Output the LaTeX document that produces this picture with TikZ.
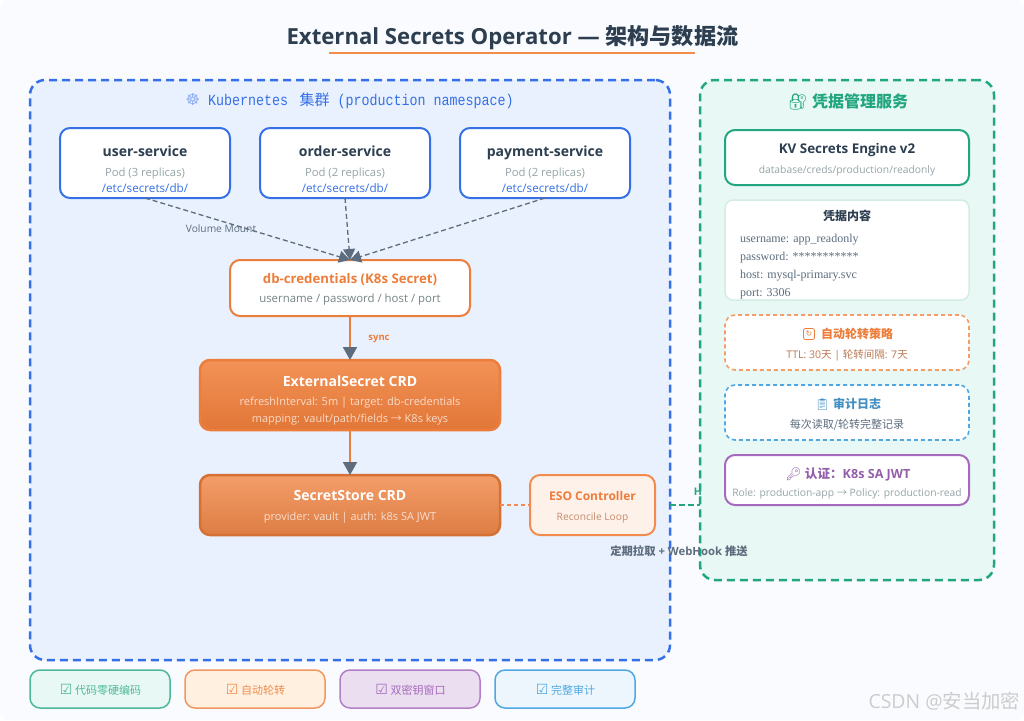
\documentclass[tikz,border=0pt]{standalone}
\usepackage{fontspec}
\usetikzlibrary{arrows.meta}
\setmainfont{Open Sans}
\newfontfamily\cjk{Noto Sans CJK SC}
\newfontfamily\mono[FakeStretch=0.86]{Liberation Mono}
\newfontfamily\serifbody{Liberation Serif}
\newfontfamily\emoji{Noto Emoji}
\newfontfamily\symb{DejaVu Sans}
\newcommand{\fs}[1]{\fontsize{#1}{#1}\selectfont}
\newcommand{\chk}{{\symb\fs{14}☑}}
\definecolor{pagebg}{HTML}{F9FBFE}
\definecolor{ink}{HTML}{2C3E50}
\definecolor{slate}{HTML}{5D6D7E}
\definecolor{mute}{HTML}{95A5A6}
\definecolor{kblue}{HTML}{3570E6}
\definecolor{kfill}{HTML}{E9F1FE}
\definecolor{vgreen}{HTML}{21A67F}
\definecolor{vfill}{HTML}{E8F8F4}
\definecolor{orange1}{HTML}{ED7D3A}
\definecolor{orange2}{HTML}{F28C4E}
\definecolor{sky}{HTML}{4FA8E4}
\definecolor{violet1}{HTML}{A569BD}
\tikzset{
  txt/.style={anchor=base,inner sep=0pt,outer sep=0pt},
  box/.style={rectangle,inner sep=0pt,outer sep=0pt,rounded corners=10pt,line width=2pt,fill=white},
  zone/.style={rectangle,inner sep=0pt,outer sep=0pt,rounded corners=15pt,line width=2.5pt,dash pattern=on 8pt off 5pt},
  podbox/.style={box,draw=kblue,minimum width=170pt,minimum height=70pt},
  podname/.style={txt,text=ink,font=\fs{14}\bfseries},
  podsub/.style={txt,text=mute,font=\fs{11.3}},
  podpath/.style={txt,text=kblue,font=\fs{11.7}},
  vbox/.style={box,minimum width=244pt},
  vtitle/.style={txt,font=\fs{12}\bfseries},
  vsub/.style={txt,font=\fs{10.5}},
  credline/.style={anchor=base west,inner sep=0pt,outer sep=0pt,text=slate,font=\serifbody\fs{12}},
  crd/.style={box,line width=2.5pt,minimum width=300pt},
  crdtitle/.style={txt,text=white,font=\fs{14}\bfseries},
  crdsub/.style={txt,text=white,text opacity=0.72,font=\fs{11}},
  legend/.style={box,line width=1.5pt,minimum width=140pt,minimum height=38pt},
  legendtxt/.style={txt,font=\fs{11}},
  mount/.style={line width=1.3pt,draw=slate,dash pattern=on 5pt off 3pt},
  flow/.style={line width=2pt,draw=orange1,-{Triangle[length=13pt,width=14pt,color=slate]}},
  rotbadge/.style={draw=orange1,line width=.8pt,rounded corners=2pt,inner sep=.6pt,text=orange1,font=\symb\fs{8},minimum size=11pt},
}
\begin{document}
\begin{tikzpicture}[x=1pt,y=-1pt]
\useasboundingbox (0,0) rectangle (1024,720);
\fill[white] (0,0) rectangle (1024,720);
\fill[pagebg,rounded corners=10pt] (0,0) rectangle (1024,720);

% title
\node[txt,text=ink,font=\fs{22.15}\bfseries] (title) at (512.5,44) {External Secrets Operator — {\cjk 架构与数据流}};
\coordinate (ulA) at (329,53);
\coordinate (ulB) at (695,53);
\draw[orange2,line width=1.5pt] (ulA) -- (ulB);

% zones
\node[zone,draw=kblue,fill=kfill,minimum width=640pt,minimum height=580pt] (k8s) at (350,370) {};
\node[zone,draw=vgreen,fill=vfill,minimum width=294pt,minimum height=500pt] (vault) at (847,330) {};
\node[txt,text=kblue,font=\mono\fs{15.5}] (k8stitle) at (349.5,105) {{\symb\fs{16.5}\color{kblue!55}☸} Kubernetes {\cjk\fs{15} 集群} (production namespace)};
\node[txt,text=vgreen,font=\fs{16}\bfseries] (vtitle) at (848,107) {{\emoji 🔐} {\cjk 凭据管理服务}};

% pods
\node[podbox] (pod1) at (145,163) {};
\node[podname] (pod1n) at (145,156) {user-service};
\node[podsub] (pod1s) at (145,176) {Pod (3 replicas)};
\node[podpath] (pod1p) at (145,192) {/etc/secrets/db/};
\node[podbox] (pod2) at (345,163) {};
\node[podname] (pod2n) at (345,156) {order-service};
\node[podsub] (pod2s) at (345,176) {Pod (2 replicas)};
\node[podpath] (pod2p) at (345,192) {/etc/secrets/db/};
\node[podbox] (pod3) at (545,163) {};
\node[podname] (pod3n) at (545,156) {payment-service};
\node[podsub] (pod3s) at (545,176) {Pod (2 replicas)};
\node[podpath] (pod3p) at (545,192) {/etc/secrets/db/};

% secret
\node[box,draw=orange1,minimum width=240pt,minimum height=56pt] (db) at (350,288) {};
\node[txt,text=orange1,font=\fs{13.2}\bfseries] (dbn) at (350,283) {db-credentials (K8s Secret)};
\node[txt,text=mute!80!black,font=\fs{11.4}] (dbs) at (350,302) {username / password / host / port};

% crds
\node[crd,draw=orange1,top color=orange2!95!white,bottom color=orange1!95!black,minimum height=70pt] (ext) at (350,395) {};
\node[crdtitle] (extn) at (350,386) {ExternalSecret CRD};
\node[crdsub] (exts1) at (350,405) {refreshInterval: 5m | target: db-credentials};
\node[crdsub] (exts2) at (350,422) {mapping: vault/path/fields {\cjk →} K8s keys};
\node[crd,draw=orange1!90!black,top color=orange2!85!white,bottom color=orange1!85!gray,minimum height=60pt] (store) at (350,505) {};
\node[crdtitle] (storen) at (350,500) {SecretStore CRD};
\node[crdsub] (stores) at (350,520) {provider: vault | auth: k8s SA JWT};

% controller
\node[box,draw=orange2,fill=orange2!12!white,minimum width=125pt,minimum height=60pt] (eso) at (592.5,505) {};
\node[txt,text=orange1,font=\fs{12}\bfseries] (eson) at (592.5,500) {ESO Controller};
\node[txt,text=orange1!65!slate!85!white,font=\fs{10.2}] (esos) at (592.5,520) {Reconcile Loop};

% connectors
\coordinate (mountin) at (db.north);
\draw[mount,-{Triangle[length=11pt,width=12pt,color=slate]}] (pod1.south) -- (mountin);
\draw[mount,-{Triangle[length=11pt,width=12pt,color=slate]}] (pod2.south) -- (mountin);
\draw[mount,-{Triangle[length=11pt,width=12pt,color=slate]}] (pod3.south) -- (mountin);
\node[txt,text=slate,font=\fs{10.2}] (vm) at (221,232) {Volume Mount};
\draw[flow] (db.south) -- (ext.north);
\node[txt,text=orange1,font=\fs{9.5}\bfseries] (syncl) at (379,340) {sync};
\draw[flow] (ext.south) -- (store.north);
\draw[line width=2pt,draw=orange2,dash pattern=on 4pt off 3pt] (store.east) -- (eso.west);
\coordinate (pullA) at (k8s.east |- eso.east);
\coordinate (pullB) at (vault.west |- eso.east);
\draw[line width=2.5pt,draw=vgreen,dash pattern=on 6pt off 3pt] (pullA) -- (pullB);
\node[txt,text=vgreen,font=\fs{10.5}\bfseries] (pullH) at (698,495) {H};
\node[txt,text=slate,font=\fs{11.3}\bfseries] (pull) at (679,555) {{\cjk 定期拉取} + WebHook {\cjk 推送}};

% vault panels
\node[vbox,draw=vgreen,minimum height=55pt] (kv) at (847,157.5) {};
\node[txt,text=ink,font=\fs{13.4}\bfseries] (kvn) at (847,153) {KV Secrets Engine v2};
\node[txt,text=mute,font=\fs{10.3}] (kvs) at (847,173) {database/creds/production/readonly};

\node[vbox,draw=vgreen!20!white,line width=1.5pt,rounded corners=8pt,minimum height=100pt] (cred) at (847,250) {};
\node[vtitle,text=ink] (credt) at (847,220) {\cjk 凭据内容};
\node[credline] (cred1) at (740,242.5) {username: app\_readonly};
\node[credline] (cred2) at (740,260) {password: ***********};
\node[credline] (cred3) at (740,278) {host: mysql-primary.svc};
\node[credline] (cred4) at (740,296) {port: 3306};

\node[vbox,draw=orange2!85!white,line width=1.6pt,dash pattern=on 4pt off 3pt,minimum height=55pt] (rot) at (847,342.5) {};
\node[vtitle,text=orange1] (rott) at (857,338) {\cjk 自动轮转策略};
\node[rotbadge] (rotb) at (809,334) {↻};
\node[vsub,text=orange1!65!slate] (rots) at (847,358) {TTL: 30{\cjk 天} | {\cjk 轮转间隔}: 7{\cjk 天}};

\node[vbox,draw=sky,line width=1.6pt,dash pattern=on 4pt off 3pt,minimum height=55pt] (audit) at (847,412.5) {};
\node[vtitle,text=sky!85!black] (auditt) at (848,408) {{\emoji 📋} {\cjk 审计日志}};
\node[vsub,text=slate,font=\fs{11}] (audits) at (847,428) {\cjk 每次读取/轮转完整记录};

\node[vbox,draw=violet1,minimum height=50pt] (auth) at (847,480) {};
\node[vtitle,text=violet1!90!black,font=\fs{12.6}\bfseries] (autht) at (848,478) {{\emoji 🔑} {\cjk 认证：}K8s SA JWT};
\node[vsub,text=mute,font=\fs{10.3}] (auths) at (847,496) {Role: production-app {\cjk →} Policy: production-read};

% legend
\node[legend,draw=vgreen!80!white,fill=vfill] (lg1) at (100,689) {};
\node[legendtxt,text=vgreen!80!white] (lg1t) at (100.5,694) {\chk\ {\cjk 代码零硬编码}};
\node[legend,draw=orange2!90!white,fill=orange!12!white] (lg2) at (255,689) {};
\node[legendtxt,text=orange2] (lg2t) at (255.5,694) {\chk\ {\cjk 自动轮转}};
\node[legend,draw=violet1!85!white,fill=violet1!22!white] (lg3) at (410,689) {};
\node[legendtxt,text=violet1] (lg3t) at (410.5,694) {\chk\ {\cjk 双密钥窗口}};
\node[legend,draw=sky,fill=sky!10!white] (lg4) at (565,689) {};
\node[legendtxt,text=sky] (lg4t) at (565.5,694) {\chk\ {\cjk 完整审计}};

% watermark
\node[anchor=base east,inner sep=0pt,text=black!20,font=\fs{19.4}] (wm) at (1020.5,708) {CSDN @{\cjk 安当加密}};
\end{tikzpicture}
\end{document}
